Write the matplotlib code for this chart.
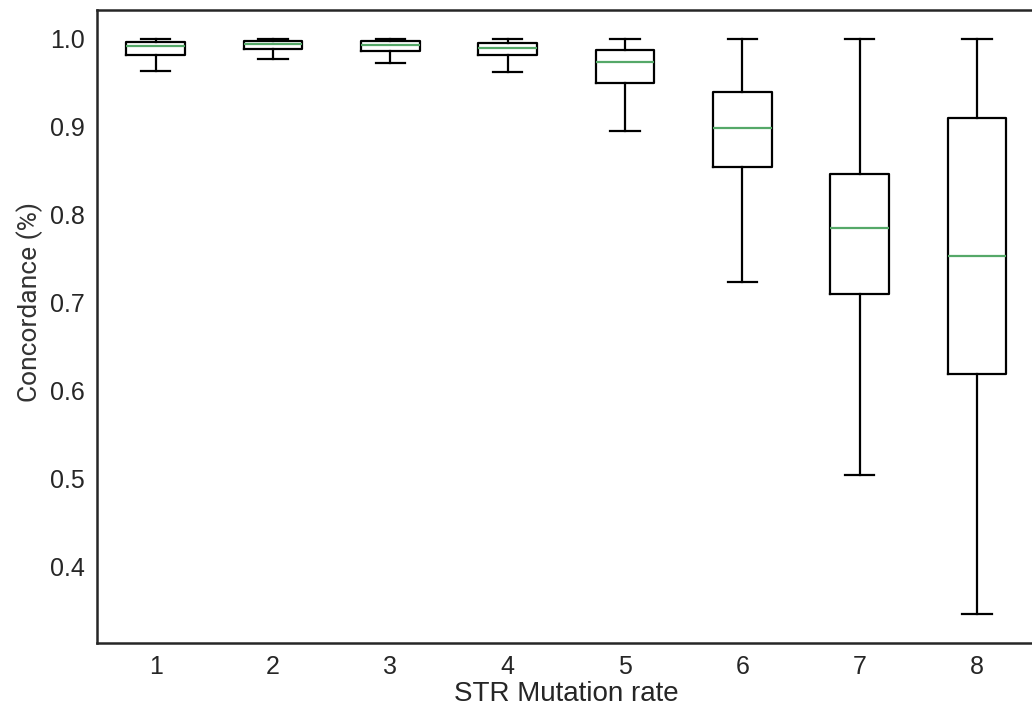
import matplotlib
matplotlib.use("Agg")
import matplotlib.pyplot as plt

# STR mutation rate categories
rates = [1, 2, 3, 4, 5, 6, 7, 8]

# box statistics (concordance)
whislo = [0.963, 0.977, 0.972, 0.962, 0.895, 0.724, 0.504, 0.346]
q1 = [0.9815, 0.9886, 0.9864, 0.9815, 0.950, 0.854, 0.710, 0.6185]
med = [0.9913, 0.994, 0.9924, 0.990, 0.974, 0.898, 0.7845, 0.7534]
q3 = [0.9962, 0.9973, 0.997, 0.995, 0.987, 0.9398, 0.8466, 0.910]
whishi = [1.0, 1.0, 1.0, 1.0, 1.0, 1.0, 1.0, 1.0]

stats = [dict(whislo=a, q1=b, med=c, q3=d, whishi=e, fliers=[])
         for a, b, c, d, e in zip(whislo, q1, med, q3, whishi)]

fig = plt.figure(figsize=(10.32, 7.12), dpi=100)
ax = fig.add_axes([0.094, 0.097, 0.9095, 0.889])

ax.bxp(stats, positions=rates, widths=0.5, showfliers=False,
       boxprops=dict(color="black", linewidth=1.6),
       whiskerprops=dict(color="black", linewidth=1.6),
       capprops=dict(color="black", linewidth=1.6),
       medianprops=dict(color="#55A868", linewidth=1.6))

ax.set_xlim(0.5, 8.5)
ax.margins(y=0.05)
ax.set_xticks(rates)
ax.set_xticklabels([str(r) for r in rates])

for s in ax.spines.values():
    s.set_color("#262626")
    s.set_linewidth(1.8)
ax.spines["right"].set_visible(False)

ax.tick_params(length=0, labelsize=18, pad=9, labelcolor="#262626")
for lab in ax.get_xticklabels() + ax.get_yticklabels():
    lab.set_family("Liberation Sans")

ax.set_xlabel("STR Mutation rate", fontsize=20, family="Liberation Sans",
              color="#262626", labelpad=1)
ax.set_ylabel("Concordance (%)", fontsize=19, family="Roboto",
              color="#333333")
ax.yaxis.set_label_coords(-0.058, 0.539)

fig.savefig("out.png", dpi=100)
